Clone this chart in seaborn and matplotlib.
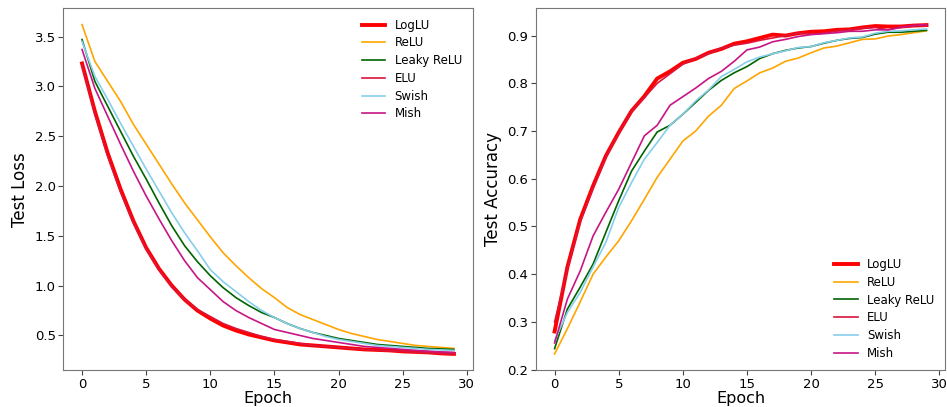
import numpy as np
import pandas as pd
import matplotlib
matplotlib.use("Agg")
import matplotlib.pyplot as plt
import seaborn as sns

epochs = list(range(30))

loss_loglu = [3.23, 2.75, 2.33, 1.97, 1.65, 1.38, 1.17, 1.00, 0.86, 0.75, 0.67, 0.60, 0.55, 0.51, 0.48,
              0.45, 0.43, 0.41, 0.40, 0.39, 0.38, 0.37, 0.36, 0.355, 0.35, 0.34, 0.335, 0.33, 0.32, 0.315]
loss_relu = [3.62, 3.25, 3.05, 2.85, 2.62, 2.42, 2.22, 2.02, 1.83, 1.66, 1.49, 1.33, 1.20, 1.08, 0.97,
             0.88, 0.78, 0.71, 0.66, 0.61, 0.56, 0.52, 0.49, 0.46, 0.44, 0.42, 0.40, 0.39, 0.38, 0.37]
loss_leaky = [3.47, 3.05, 2.80, 2.55, 2.30, 2.07, 1.83, 1.60, 1.40, 1.24, 1.10, 0.98, 0.88, 0.80, 0.73,
              0.68, 0.62, 0.57, 0.53, 0.50, 0.47, 0.45, 0.43, 0.41, 0.40, 0.39, 0.38, 0.37, 0.365, 0.36]
loss_elu = [3.22, 2.72, 2.30, 1.94, 1.63, 1.37, 1.16, 0.99, 0.86, 0.76, 0.69, 0.62, 0.57, 0.53, 0.49,
            0.46, 0.44, 0.42, 0.40, 0.39, 0.38, 0.37, 0.36, 0.35, 0.345, 0.34, 0.33, 0.325, 0.32, 0.315]
loss_swish = [3.45, 3.10, 2.87, 2.63, 2.40, 2.17, 1.95, 1.73, 1.53, 1.35, 1.16, 1.04, 0.94, 0.84, 0.75,
              0.68, 0.62, 0.57, 0.53, 0.49, 0.46, 0.44, 0.42, 0.40, 0.39, 0.38, 0.37, 0.36, 0.355, 0.35]
loss_mish = [3.37, 2.98, 2.70, 2.42, 2.15, 1.90, 1.67, 1.45, 1.25, 1.08, 0.96, 0.84, 0.75, 0.68, 0.62,
             0.56, 0.53, 0.50, 0.47, 0.45, 0.43, 0.41, 0.39, 0.38, 0.37, 0.36, 0.35, 0.34, 0.335, 0.33]

acc_loglu = [0.28, 0.415, 0.515, 0.585, 0.648, 0.697, 0.742, 0.773, 0.81, 0.825, 0.843, 0.851, 0.864, 0.872,
             0.883, 0.888, 0.895, 0.902, 0.90, 0.905, 0.908, 0.909, 0.912, 0.913, 0.917, 0.92, 0.919, 0.919,
             0.921, 0.922]
acc_relu = [0.233, 0.286, 0.342, 0.40, 0.436, 0.47, 0.512, 0.557, 0.603, 0.641, 0.679, 0.70, 0.731, 0.754,
            0.789, 0.805, 0.822, 0.832, 0.846, 0.853, 0.864, 0.874, 0.878, 0.885, 0.892, 0.893, 0.899, 0.902,
            0.906, 0.91]
acc_leaky = [0.244, 0.327, 0.373, 0.421, 0.488, 0.554, 0.616, 0.658, 0.698, 0.712, 0.735, 0.76, 0.785, 0.806,
             0.822, 0.835, 0.852, 0.862, 0.869, 0.874, 0.877, 0.884, 0.89, 0.894, 0.896, 0.903, 0.907, 0.907,
             0.909, 0.911]
acc_elu = [0.30, 0.41, 0.51, 0.58, 0.645, 0.695, 0.742, 0.77, 0.80, 0.82, 0.84, 0.852, 0.862, 0.874, 0.88,
           0.884, 0.89, 0.895, 0.90, 0.905, 0.903, 0.905, 0.91, 0.912, 0.915, 0.917, 0.912, 0.918, 0.921, 0.92]
acc_swish = [0.261, 0.32, 0.362, 0.415, 0.467, 0.54, 0.592, 0.641, 0.676, 0.712, 0.735, 0.763, 0.786, 0.814,
             0.829, 0.845, 0.855, 0.862, 0.868, 0.875, 0.877, 0.885, 0.89, 0.895, 0.897, 0.905, 0.909, 0.91,
             0.912, 0.914]
acc_mish = [0.256, 0.348, 0.407, 0.48, 0.53, 0.578, 0.634, 0.69, 0.712, 0.754, 0.772, 0.79, 0.81, 0.825,
            0.846, 0.87, 0.876, 0.887, 0.892, 0.898, 0.902, 0.904, 0.906, 0.909, 0.909, 0.912, 0.912, 0.917,
            0.921, 0.923]

names = ["LogLU", "ReLU", "Leaky ReLU", "ELU", "Swish", "Mish"]
colors = ["red", "orange", "darkgreen", "crimson", "skyblue", "mediumvioletred"]
widths = [2.8, 1.2, 1.2, 1.2, 1.2, 1.2]
losses = [loss_loglu, loss_relu, loss_leaky, loss_elu, loss_swish, loss_mish]
accs = [acc_loglu, acc_relu, acc_leaky, acc_elu, acc_swish, acc_mish]

plt.rcParams['font.family'] = ['DejaVu Sans']

fig, (ax1, ax2) = plt.subplots(1, 2, figsize=(9.47, 4.07), dpi=100)
fig.subplots_adjust(left=0.067, right=0.998, bottom=0.09, top=0.98, wspace=0.155)

for ax, series, ylabel, loc in [(ax1, losses, "Test Loss", "upper right"),
                                (ax2, accs, "Test Accuracy", "lower right")]:
    for name, col, lw, vals in zip(names, colors, widths, series):
        df = pd.DataFrame({"Epoch": epochs, "value": vals})
        sns.lineplot(data=df, x="Epoch", y="value", ax=ax, color=col, linewidth=lw, label=name)
    ax.set_xlabel("Epoch", fontsize=11.5, labelpad=0)
    ax.set_ylabel(ylabel, fontsize=12)
    ax.tick_params(labelsize=9.5, length=3.5, width=0.8, pad=2, color="#444444")
    for s in ax.spines.values():
        s.set_color("#777777")
    ax.set_xticks([0, 5, 10, 15, 20, 25, 30])
    ax.legend(loc=loc, frameon=False, fontsize=8.5, labelspacing=0.4)

ax1.set_yticks([0.5, 1.0, 1.5, 2.0, 2.5, 3.0, 3.5])
ax2.set_yticks([0.2, 0.3, 0.4, 0.5, 0.6, 0.7, 0.8, 0.9])

fig.savefig("out.png", dpi=100)
